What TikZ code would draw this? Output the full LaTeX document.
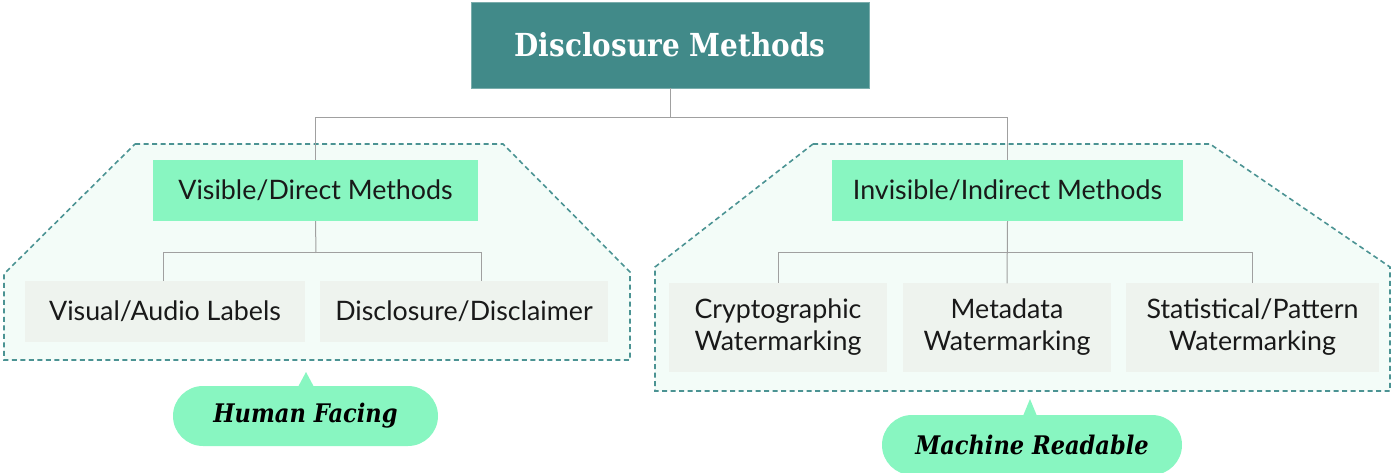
\documentclass[tikz,border=0pt]{standalone}
\usepackage{fontspec}
\setmainfont{Lato}
\newfontfamily\slabfont[FakeStretch=0.88]{DejaVu Serif}
\definecolor{teal1}{HTML}{418A89}
\definecolor{mint}{HTML}{88F6C1}
\definecolor{leafbg}{HTML}{EEF3EE}
\definecolor{regionbg}{HTML}{F3FCF8}
\definecolor{dashc}{HTML}{4B9393}
\definecolor{linec}{HTML}{A0A0A0}
\tikzset{
  region/.style={draw=dashc, fill=regionbg, line width=1.6pt, dash pattern=on 5pt off 3.5pt},
  titlebox/.style={fill=teal1, draw=teal1!70!white, line width=0.5pt, minimum width=398pt, minimum height=86pt, text=white, font=\slabfont\bfseries\fontsize{31.7}{36}\selectfont},
  groupbox/.style={fill=mint, minimum height=61pt, font=\fontsize{26.8}{32}\selectfont, text=black!90},
  leafbox/.style={fill=leafbg, font=\fontsize{26.8}{32}\selectfont, text=black!90, align=center},
  bubble/.style={fill=mint, rounded corners=30pt, minimum height=60pt, font=\slabfont\bfseries\itshape\fontsize{25.6}{30}\selectfont},
  conn/.style={draw=linec, line width=1pt}
}
\begin{document}
\begin{tikzpicture}[x=1pt,y=-1pt]
\useasboundingbox (0,0) rectangle (1393,473);
% regions
\draw[region] (135,144) -- (503,144) -- (630,272) -- (630,360) -- (4,360) -- (4,274) -- cycle;
\draw[region] (813,144) -- (1210,144) -- (1390,267) -- (1390,391) -- (655,391) -- (655,267) -- cycle;
% nodes
\node[titlebox] (title) at (670,45) {Disclosure Methods};
\node[groupbox, minimum width=325pt] (vis) at (315.5,190.5) {Visible/Direct Methods};
\node[groupbox, minimum width=351pt] (inv) at (1007.5,190.5) {Invisible/Indirect Methods};
\node[leafbox, minimum width=280pt, minimum height=61pt] (va) at (165,311.5) {Visual/Audio Labels};
\node[leafbox, minimum width=288pt, minimum height=61pt] (dd) at (464,311.5) {Disclosure/Disclaimer};
\node[leafbox, minimum width=218pt, minimum height=88pt] (cw) at (778,327.5) {Cryptographic\\Watermarking};
\node[leafbox, minimum width=208pt, minimum height=88pt] (mw) at (1007,327.5) {Metadata\\Watermarking};
\node[leafbox, minimum width=253pt, minimum height=88pt] (sw) at (1252.5,327.5) {Statistical/Pattern\\Watermarking};
% bubbles
\fill[mint] (298,387) -- (306,372) -- (314,387) -- cycle;
\node[bubble, minimum width=265pt] (hf) at (305.5,416) {Human Facing};
\fill[mint] (1023,416) -- (1030,399) -- (1037,416) -- cycle;
\node[bubble, minimum width=300pt] (mr) at (1032,445) {Machine Readable};
% connectors
\coordinate (b1) at (670,118);
\coordinate (b2) at (316,253);
\coordinate (b3) at (1007,253);
\draw[conn] (title.south) -- (b1);
\draw[conn] (b1) -| (vis.north);
\draw[conn] (b1) -| (inv.north);
\draw[conn] (vis.south) -- (b2);
\draw[conn] (b2) -| ([xshift=-2pt]va.north);
\draw[conn] (b2) -| ([xshift=17pt]dd.north);
\draw[conn] (inv.south) -- (mw.north);
\draw[conn] (b3) -| (cw.north);
\draw[conn] (b3) -| (sw.north);
\end{tikzpicture}
\end{document}
